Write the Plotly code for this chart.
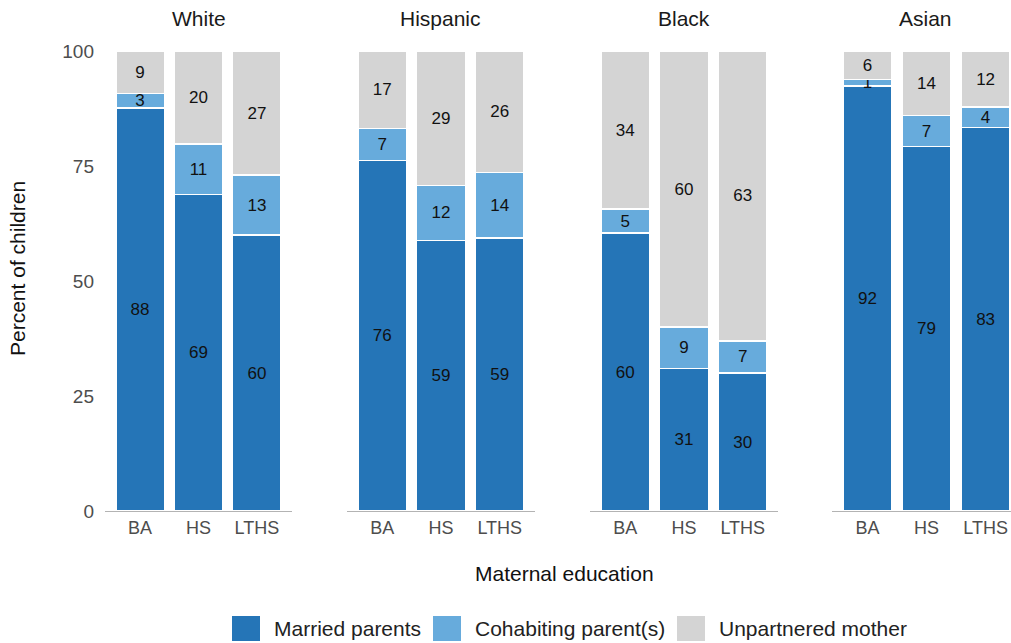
import plotly.graph_objects as go

groups = ["White", "Hispanic", "Black", "Asian"]
education = ["BA", "HS", "LTHS"]

married = {
    "White": [87.6, 68.8, 60.0],
    "Hispanic": [76.2, 58.8, 59.4],
    "Black": [60.4, 31.0, 30.0],
    "Asian": [92.4, 79.2, 83.4],
}
cohabiting = {
    "White": [3.2, 11.0, 13.0],
    "Hispanic": [7.0, 12.0, 14.2],
    "Black": [5.2, 9.0, 7.0],
    "Asian": [1.4, 6.8, 4.4],
}
unpartnered = {
    "White": [9.2, 20.2, 27.0],
    "Hispanic": [16.8, 29.2, 26.4],
    "Black": [34.4, 60.0, 63.0],
    "Asian": [6.2, 14.0, 12.2],
}

series = [
    ("Married parents", married, "#2575b7"),
    ("Cohabiting parent(s)", cohabiting, "#67abdc"),
    ("Unpartnered mother", unpartnered, "#d4d4d4"),
]

W, H = 1011, 643
panel_px = [(105, 292), (347, 535), (590, 778), (832, 1011)]
ranges = [[-0.6, 2.6], [-0.6, 2.6], [-0.6, 2.6], [-0.6, 2.43]]
y_top_px, y_bot_px = 51, 511
legend_swatch_x = [232, 433, 677]   # left edge of each legend swatch, px
FONT = "Liberation Sans"

fig = go.Figure()
for si, (name, data, color) in enumerate(series):
    for gi, g in enumerate(groups):
        xa = "x" if gi == 0 else f"x{gi+1}"
        fig.add_trace(go.Bar(
            x=education, y=data[g], name=name,
            xaxis=xa, yaxis="y",
            marker=dict(color=color, line=dict(color="white", width=1.5)),
            text=data[g], texttemplate="%{y:.0f}",
            textposition="inside", insidetextanchor="middle", textangle=0,
            textfont=dict(color="#111111", size=17, family=FONT),
            showlegend=False, hoverinfo="skip",
        ))

layout = dict(
    width=W, height=H,
    barmode="stack", bargap=0.17,
    paper_bgcolor="white", plot_bgcolor="white",
    margin=dict(l=0, r=0, t=0, b=0, autoexpand=False),
    font=dict(family=FONT, color="#222222"),
    uniformtext=dict(minsize=17, mode="show"),
    showlegend=False,
)
ydom = [(H - y_bot_px) / H, (H - y_top_px) / H]
for gi in range(4):
    key = "xaxis" if gi == 0 else f"xaxis{gi+1}"
    a, b = panel_px[gi]
    layout[key] = dict(
        domain=[a / W, b / W], anchor="y", range=ranges[gi], type="category",
        showline=True, linecolor="#b3b3b3", linewidth=1.2, ticks="", showgrid=False,
        zeroline=False, tickfont=dict(size=18, color="#4d4d4d"), ticklabelstandoff=0,
        automargin=False,
    )
layout["yaxis"] = dict(
    domain=ydom, anchor="x", range=[0, 100], tickvals=[0, 25, 50, 75, 100],
    showgrid=False, zeroline=False, showline=False, ticks="",
    tickfont=dict(size=19, color="#4d4d4d"), ticklabelstandoff=10,
    automargin=False,
)
fig.update_layout(**layout)

annotations = []
shapes = []
for gi, g in enumerate(groups):
    a, b = panel_px[gi]
    cx = (a + 93.5) / W
    annotations.append(dict(text=g, x=cx, y=(H - 18) / H, xref="paper", yref="paper",
                            showarrow=False, font=dict(size=21, color="#1a1a1a"),
                            xanchor="center", yanchor="middle"))
annotations.append(dict(text="Maternal education", x=564 / W, y=(H - 573) / H, xref="paper", yref="paper",
                        showarrow=False, font=dict(size=21, color="#111111"),
                        xanchor="center", yanchor="middle"))
annotations.append(dict(text="Percent of children", x=17 / W, y=(H - 269) / H, xref="paper", yref="paper",
                        showarrow=False, textangle=-90, font=dict(size=21, color="#111111"),
                        xanchor="center", yanchor="middle"))

# legend: swatches + labels
sw_w, sw_top, sw_bot = 28, 616, 641
for (name, data, color), lx in zip(series, legend_swatch_x):
    shapes.append(dict(type="rect", xref="paper", yref="paper",
                       x0=lx / W, x1=(lx + sw_w) / W, y0=(H - sw_bot) / H, y1=(H - sw_top) / H,
                       fillcolor=color, line=dict(width=0)))
    annotations.append(dict(text=name, x=(lx + sw_w + 12) / W, y=(H - (sw_top + sw_bot) / 2) / H,
                            xref="paper", yref="paper", showarrow=False,
                            font=dict(size=21, color="#222222"), xanchor="left", yanchor="middle"))
fig.update_layout(annotations=annotations, shapes=shapes)

fig.write_html("out.html", config={"displayModeBar": False},
               post_script="document.body.style.margin='0';document.body.style.overflow='hidden';")
